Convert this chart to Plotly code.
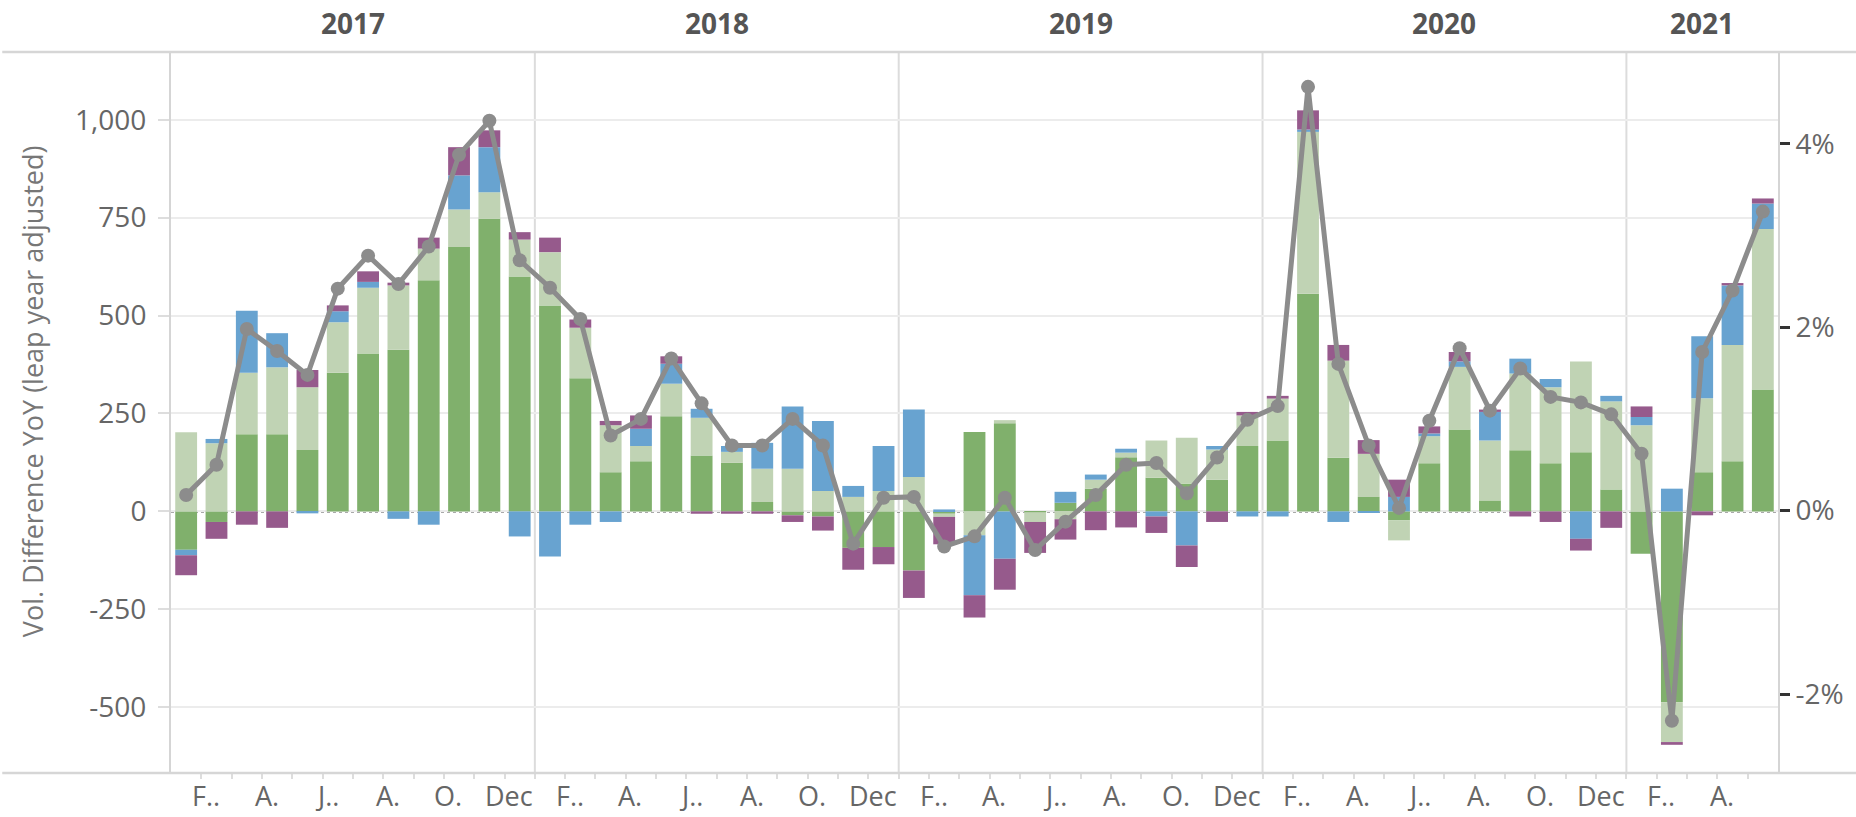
import plotly.graph_objects as go

# ---------------- data ----------------
years = ["2017", "2018", "2019", "2020", "2021"]
months_per_year = [12, 12, 12, 12, 5]
month_labels = (["", "F..", "", "A.", "", "J..", "", "A.", "", "O.", "", "Dec"] * 4
                + ["", "F..", "", "A.", ""])

# stacked components (volume difference YoY)
green = [-98, -27, 197, 197, 157, 354, 403, 413, 590, 675, 747, 600,
         526, 340, 100, 128, 243, 143, 124, 24, -10, -13, -93, -91,
         -151, -6, 203, 225, -2, 22, 58, 138, 86, 71, 81, 167,
         181, 556, 137, 37, -23, 123, 209, 28, 156, 123, 151, 56,
         -108, -487, 100, 128, 311]
light_green = [202, 174, 157, 171, 160, 129, 168, 164, 81, 96, 68, 94,
               136, 129, 120, 39, 83, 96, 28, 85, 109, 52, 37, 52,
               88, -8, -61, 8, -25, -20, 23, 12, 95, 117, 77, 78,
               107, 413, 248, 110, -51, 69, 160, 153, 196, 194, 232, 225,
               220, -102, 189, 297, 410]
blue = [-14, 11, 158, 87, -5, 28, 15, -19, -34, 87, 115, -64,
        -115, -34, -27, 44, 51, 23, 15, 66, 159, 179, 28, 115,
        172, 5, -153, -121, 0, 28, 13, 10, -13, -87, 9, -13,
        -13, 6, -27, -4, 37, 7, 14, 73, 38, 21, -70, 14,
        21, 58, 158, 152, 65]
purple = [-51, -43, -34, -42, 44, 15, 27, 7, 28, 72, 43, 19,
          37, 21, 11, 34, 19, -6, -6, -6, -17, -36, -56, -44,
          -70, -70, -57, -79, -79, -52, -48, -41, -42, -55, -27, 9,
          7, 49, 40, 35, 44, 18, 24, 6, -13, -27, -30, -42,
          27, -7, -10, 6, 13]
# line: % difference YoY (right axis)
pct = [0.17, 0.50, 1.98, 1.74, 1.48, 2.42, 2.78, 2.47, 2.88, 3.88, 4.25, 2.73,
       2.43, 2.09, 0.82, 1.00, 1.66, 1.17, 0.71, 0.71, 1.00, 0.71, -0.36, 0.14,
       0.15, -0.39, -0.28, 0.14, -0.43, -0.12, 0.17, 0.50, 0.52, 0.19, 0.58, 0.99,
       1.14, 4.62, 1.60, 0.71, 0.03, 0.98, 1.77, 1.09, 1.55, 1.24, 1.18, 1.05,
       0.62, -2.29, 1.73, 2.40, 3.26]

y_tickvals = [-500, -250, 0, 250, 500, 750, 1000]
y_ticktext = ["-500", "-250", "0", "250", "500", "750", "1,000"]
pct_tickvals = [-2, 0, 2, 4]
pct_ticktext = ["-2%", "0%", "2%", "4%"]

# ---------------- style ----------------
FONT = "Open Sans"
C_DG = "#80b06c"
C_LG = "#c0d3b4"
C_BL = "#68a3d0"
C_PU = "#965a8c"
C_LINE = "#8c8c8c"
TICK_COLOR = "#666666"

n = len(green)
x = list(range(n))

fig = go.Figure()
for vals, col, name in [(green, C_DG, "g"), (light_green, C_LG, "lg"),
                        (blue, C_BL, "b"), (purple, C_PU, "p")]:
    fig.add_trace(go.Bar(x=x, y=vals, marker=dict(color=col, line=dict(width=0)),
                         width=0.72, name=name, showlegend=False))

fig.add_trace(go.Scatter(x=x, y=pct, yaxis="y2", mode="lines+markers",
                         line=dict(color=C_LINE, width=5),
                         marker=dict(size=14, color=C_LINE),
                         showlegend=False))

# year boundaries
bounds = []
acc = -0.5
for m in months_per_year:
    bounds.append((acc, acc + m))
    acc += m

shapes = []
for (a, b) in bounds[:-1]:
    shapes.append(dict(type="line", xref="x", yref="paper", x0=b, x1=b, y0=0, y1=1,
                       line=dict(color="#dcdcdc", width=2), layer="between"))
# zero dotted line
shapes.append(dict(type="line", xref="paper", yref="y", x0=0, x1=1, y0=0, y1=0,
                   line=dict(color="#555555", width=2, dash="dot"), layer="between"))
# top & bottom frame lines spanning the full width
for yy in (0, 1):
    shapes.append(dict(type="line", xref="paper", yref="paper", x0=-0.105, x1=1.05,
                       y0=yy, y1=yy, line=dict(color="#d6d6d6", width=2.5), layer="above"))

annotations = []
for (a, b), yr in zip(bounds, years):
    annotations.append(dict(x=(a + b) / 2, y=1, xref="x", yref="paper", yshift=29,
                            text=f"<b>{yr}</b>", showarrow=False, yanchor="middle",
                            font=dict(family=FONT, size=28, color="#555555")))
for i, lab in enumerate(month_labels):
    if lab:
        annotations.append(dict(x=i - 0.35, y=0, xref="x", yref="paper", yshift=-22,
                                text=lab, showarrow=False, yanchor="middle",
                                font=dict(family=FONT, size=27, color=TICK_COLOR)))
annotations.append(dict(x=-0.0857, y=0.53, xref="paper", yref="paper",
                        text="Vol. Difference YoY (leap year adjusted)", textangle=-90,
                        showarrow=False, xanchor="center", yanchor="middle",
                        font=dict(family=FONT, size=27, color="#777777")))

fig.update_layout(
    width=1856, height=817,
    margin=dict(l=171, r=78, t=52, b=44),
    paper_bgcolor="white", plot_bgcolor="white",
    barmode="relative", bargap=0.28,
    font=dict(family=FONT, size=27, color=TICK_COLOR),
    xaxis=dict(range=[-0.5, n - 0.5], tickvals=[i + 0.5 for i in range(n - 1)],
               ticks="outside", ticklen=5, tickwidth=2, tickcolor="#dddddd",
               showticklabels=False, showgrid=False, zeroline=False, showline=False),
    yaxis=dict(range=[-668, 1173], tickvals=y_tickvals, ticktext=y_ticktext,
               showgrid=True, gridcolor="#ececec", gridwidth=2, zeroline=False,
               showline=True, linecolor="#d5d5d5", linewidth=2,
               ticks="outside", ticklen=11, tickwidth=2, tickcolor="#dddddd",
               ticklabelstandoff=6,
               tickfont=dict(family=FONT, size=28, color=TICK_COLOR)),
    yaxis2=dict(range=[-2.86, 5.0], overlaying="y", side="right",
                tickvals=pct_tickvals, ticktext=pct_ticktext,
                showgrid=False, zeroline=False, showline=True, linecolor="#d5d5d5",
                linewidth=2, ticks="outside", ticklen=10, tickwidth=2.5, tickcolor="#333333",
                tickfont=dict(family=FONT, size=28, color=TICK_COLOR)),
    shapes=shapes,
    annotations=annotations,
)

fig.write_html("out.html", config={"displayModeBar": False},
               post_script="document.body.style.margin='0px';document.body.style.overflow='hidden';")
